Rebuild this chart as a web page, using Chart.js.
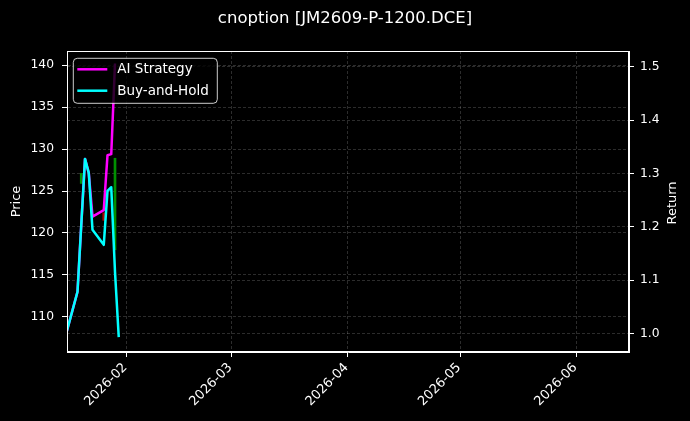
<!DOCTYPE html>
<html><head><meta charset="utf-8">
<script src="https://cdn.jsdelivr.net/npm/chart.js@4.4.1/dist/chart.umd.min.js"></script>
<style>html,body{margin:0;padding:0;background:#000;}canvas{display:block;}</style>
</head><body>
<div style="width:690px;height:421px;position:relative"><canvas id="c" width="690" height="421"></canvas></div>
<script>
const chartTitle = 'cnoption [JM2609-P-1200.DCE]';
const seriesNames = ['AI Strategy', 'Buy-and-Hold'];
const seriesColors = ['#ff00ff', '#00ffff'];
const lineDates = ['2026-01-16','2026-01-19','2026-01-21','2026-01-22','2026-01-23','2026-01-26','2026-01-27','2026-01-28','2026-01-29','2026-01-30'];
const aiStrategy = [1.000, 1.078, 1.327, 1.301, 1.219, 1.231, 1.334, 1.336, 1.506, null];
const buyAndHold = [1.000, 1.078, 1.327, 1.301, 1.194, 1.166, 1.267, 1.274, 1.115, 0.993];
const candleDates = ['2026-01-20','2026-01-26','2026-01-29'];
const candleOpen = [125.9, 122.4, 118.0];
const candleClose = [127.1, 121.5, 128.9];
const xTickDates = ['2026-02-01','2026-03-01','2026-04-01','2026-05-01','2026-06-01'];
const xTickLabels = ['2026-02','2026-03','2026-04','2026-05','2026-06'];
const xRangeDays = [15.2, 165.05];
const priceTicks = [110, 115, 120, 125, 130, 135, 140];
const priceRange = [105.83, 141.67];
const returnTicks = [1.0, 1.1, 1.2, 1.3, 1.4, 1.5];
const returnRange = [0.965, 1.5294];
const yLabelLeft = 'Price';
const yLabelRight = 'Return';

const FONT = 'DejaVu Sans';
function dayOf(s) {
  const [y, m, d] = s.split('-').map(Number);
  return (Date.UTC(y, m - 1, d) - Date.UTC(2026, 0, 1)) / 86400000;
}
const xTickDays = xTickDates.map(dayOf);

Chart.defaults.font.family = FONT;
Chart.defaults.color = '#ffffff';

const gridColor = 'rgba(255,255,255,0.22)';
const gridDash = [3, 2];

const bgPlugin = {
  id: 'bg',
  beforeDraw(chart) {
    const ctx = chart.ctx;
    ctx.save();
    ctx.fillStyle = '#000';
    ctx.fillRect(0, 0, chart.width, chart.height);
    ctx.restore();
  }
};

const overlayPlugin = {
  id: 'overlay',
  afterDatasetsDraw(chart) {
    const ctx = chart.ctx, a = chart.chartArea;
    ctx.save();
    ctx.strokeStyle = '#ffffff';
    ctx.lineWidth = 1;
    ctx.strokeRect(Math.round(a.left) + 0.5, Math.round(a.top) + 0.5, Math.round(a.right - a.left) - 1, Math.round(a.bottom - a.top) - 1);
    const x = a.left + 6.3, y = a.top + 7.3, w = 144, h = 45, r = 4;
    ctx.beginPath();
    ctx.moveTo(x + r, y);
    ctx.lineTo(x + w - r, y); ctx.quadraticCurveTo(x + w, y, x + w, y + r);
    ctx.lineTo(x + w, y + h - r); ctx.quadraticCurveTo(x + w, y + h, x + w - r, y + h);
    ctx.lineTo(x + r, y + h); ctx.quadraticCurveTo(x, y + h, x, y + h - r);
    ctx.lineTo(x, y + r); ctx.quadraticCurveTo(x, y, x + r, y);
    ctx.closePath();
    ctx.fillStyle = 'rgba(0,0,0,0.8)';
    ctx.fill();
    ctx.strokeStyle = 'rgba(255,255,255,0.8)';
    ctx.stroke();
    seriesNames.forEach((name, i) => {
      const ly = y + 11 + i * 21.4;
      ctx.strokeStyle = seriesColors[i];
      ctx.lineWidth = 2.5;
      ctx.beginPath();
      ctx.moveTo(x + 4, ly);
      ctx.lineTo(x + 34, ly);
      ctx.stroke();
      ctx.fillStyle = '#ffffff';
      ctx.font = '13.5px "' + FONT + '"';
      ctx.textBaseline = 'middle';
      ctx.textAlign = 'left';
      ctx.fillText(name, x + 44, ly + 0.5);
    });
    ctx.translate(673, (a.top + a.bottom) / 2 + 1.5);
    ctx.rotate(-Math.PI / 2);
    ctx.font = '13px "' + FONT + '"';
    ctx.textAlign = 'center';
    ctx.textBaseline = 'middle';
    ctx.fillStyle = '#ffffff';
    ctx.fillText(yLabelRight, 0, 0);
    ctx.restore();
  }
};

const datasets = [
  {
    type: 'line', label: seriesNames[1], yAxisID: 'y1', order: 1,
    data: lineDates.map((d, i) => ({x: dayOf(d), y: buyAndHold[i]})),
    borderColor: seriesColors[1], backgroundColor: seriesColors[1],
    borderWidth: 2.5, pointRadius: 0, tension: 0, borderJoinStyle: 'round', spanGaps: false
  },
  {
    type: 'line', label: seriesNames[0], yAxisID: 'y1', order: 2,
    data: lineDates.map((d, i) => ({x: dayOf(d), y: aiStrategy[i]})),
    borderColor: seriesColors[0], backgroundColor: seriesColors[0],
    borderWidth: 2.5, pointRadius: 0, tension: 0, borderJoinStyle: 'round', spanGaps: false
  },
  {
    type: 'bar', label: 'Price', yAxisID: 'y', order: 3,
    data: candleDates.map((d, i) => ({x: dayOf(d), y: [candleOpen[i], candleClose[i]]})),
    backgroundColor: candleDates.map((d, i) => candleClose[i] >= candleOpen[i] ? 'rgba(0,160,0,0.9)' : 'rgba(190,0,0,0.9)'),
    borderWidth: 0, barThickness: 2, grouped: false
  }
];

new Chart(document.getElementById('c'), {
  type: 'line',
  data: {datasets},
  plugins: [bgPlugin, overlayPlugin],
  options: {
    responsive: false,
    animation: false,
    layout: {padding: 0},
    plugins: {
      legend: {display: false},
      tooltip: {enabled: false},
      title: {
        display: true, text: chartTitle, color: '#ffffff',
        font: {family: FONT, size: 16.5, weight: 'normal'},
        padding: {top: 8.6, bottom: 22.6}
      }
    },
    scales: {
      x: {
        type: 'linear', position: 'bottom', min: xRangeDays[0], max: xRangeDays[1],
        offset: false,
        afterBuildTicks: s => { s.ticks = xTickDays.map(v => ({value: v})); },
        afterFit: s => { s.height = 69; },
        ticks: {
          autoSkip: false, maxRotation: 45, minRotation: 45, color: '#ffffff',
          font: {family: FONT, size: 13}, padding: 3, labelOffset: -1,
          callback: v => { const i = xTickDays.indexOf(v); return i >= 0 ? xTickLabels[i] : ''; }
        },
        grid: {display: true, offset: false, color: gridColor, lineWidth: 0.8, drawTicks: true, tickLength: 5, tickColor: '#ffffff', tickWidth: 1},
        border: {display: true, color: '#ffffff', width: 1, dash: gridDash}
      },
      y: {
        type: 'linear', position: 'left', min: priceRange[0], max: priceRange[1],
        afterBuildTicks: s => { s.ticks = priceTicks.map(v => ({value: v})); },
        afterFit: s => { s.width = 67; },
        ticks: {color: '#ffffff', font: {family: FONT, size: 12.3}, padding: 8, callback: v => String(v)},
        grid: {color: gridColor, lineWidth: 0.8, drawTicks: true, tickLength: 5, tickColor: '#ffffff', tickWidth: 1},
        border: {display: true, color: '#ffffff', width: 1, dash: gridDash},
        title: {display: true, text: yLabelLeft, color: '#ffffff', font: {family: FONT, size: 13}, padding: {top: 9, bottom: 0}}
      },
      y1: {
        type: 'linear', position: 'right', min: returnRange[0], max: returnRange[1],
        afterBuildTicks: s => { s.ticks = returnTicks.map(v => ({value: v})); },
        afterFit: s => { s.width = 61; },
        ticks: {color: '#ffffff', font: {family: FONT, size: 12.3}, padding: 6, callback: v => v.toFixed(1)},
        grid: {color: gridColor, lineWidth: 0.8, drawTicks: true, tickLength: 5, tickColor: '#ffffff', tickWidth: 1},
        border: {display: true, color: '#ffffff', width: 1, dash: gridDash},
        title: {display: false}
      }
    }
  }
});
</script>
</body></html>
